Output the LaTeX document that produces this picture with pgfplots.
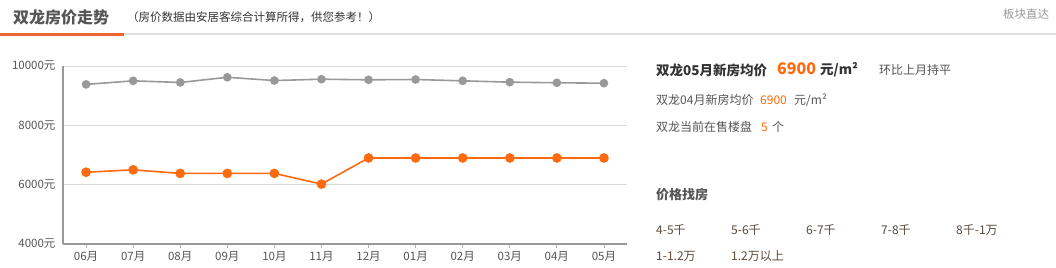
\documentclass[border=0pt]{standalone}
\usepackage{pgfplots}
\pgfplotsset{compat=1.18}
\usepackage{fontspec}
\setmainfont{Noto Sans CJK SC}
\definecolor{org}{HTML}{FF6A0E}
\definecolor{uline}{HTML}{EE6530}
\definecolor{gline}{HTML}{999999}
\definecolor{txt}{HTML}{555555}
\definecolor{dark}{HTML}{333333}
\definecolor{lnk}{HTML}{5A4A3A}
\newcommand{\fs}[1]{\fontsize{#1bp}{#1bp}\selectfont}
\begin{document}
\begin{tikzpicture}[x=1bp,y=1bp]
\path[use as bounding box, fill=white] (0,0) rectangle (1056,-267);
% header
\draw[line width=2bp, color=black!12] (0,-34) -- (1056,-34);
\draw[line width=3bp, color=uline] (0,-34) -- (124,-34);
\node[anchor=west, inner sep=0, text=txt, font=\fs{16}\bfseries] at (13,-17) {双龙房价走势};
\node[anchor=west, inner sep=0, text=dark, font=\fs{11.5}] at (127,-17) {（房价数据由安居客综合计算所得，供您参考！）};
\node[anchor=west, inner sep=0, text=gline, font=\fs{11.5}] at (1003,-14) {板块直达};
% right panel
\node[anchor=west, inner sep=0, text=dark, font=\fs{13.5}\bfseries] at (656,-70) {双龙05月新房均价};
\node[anchor=west, inner sep=0, text=org, font=\fs{16}\bfseries] at (777,-69) {6900};
\node[anchor=west, inner sep=0, text=dark, font=\fs{13.5}\bfseries] at (820,-70) {元/m²};
\node[anchor=west, inner sep=0, text=txt, font=\fs{12}] at (879,-70) {环比上月持平};
\node[anchor=west, inner sep=0, text=txt, font=\fs{12}] at (656,-100) {双龙04月新房均价};
\node[anchor=west, inner sep=0, text=org, font=\fs{12}] at (760,-100) {6900};
\node[anchor=west, inner sep=0, text=txt, font=\fs{12}] at (794,-100) {元/m²};
\node[anchor=west, inner sep=0, text=txt, font=\fs{12}] at (656,-127) {双龙当前在售楼盘};
\node[anchor=west, inner sep=0, text=org, font=\fs{12}] at (761,-127) {5};
\node[anchor=west, inner sep=0, text=txt, font=\fs{12}] at (772,-127) {个};
\node[anchor=west, inner sep=0, text=txt, font=\fs{13}\bfseries] at (656,-195) {价格找房};
\node[anchor=west, inner sep=0, text=lnk, font=\fs{12}] at (656,-230) {4-5千};
\node[anchor=west, inner sep=0, text=lnk, font=\fs{12}] at (731,-230) {5-6千};
\node[anchor=west, inner sep=0, text=lnk, font=\fs{12}] at (806,-230) {6-7千};
\node[anchor=west, inner sep=0, text=lnk, font=\fs{12}] at (881,-230) {7-8千};
\node[anchor=west, inner sep=0, text=lnk, font=\fs{12}] at (956,-230) {8千-1万};
\node[anchor=west, inner sep=0, text=lnk, font=\fs{12}] at (656,-256) {1-1.2万};
\node[anchor=west, inner sep=0, text=lnk, font=\fs{12}] at (731,-256) {1.2万以上};
\begin{axis}[
  at={(63bp,-244bp)}, anchor=south west,
  scale only axis, width=564bp, height=178bp,
  xmin=-0.49, xmax=11.49, ymin=4000, ymax=10000,
  scaled y ticks=false,
  axis lines*=left,
  axis line style={draw=gline, line width=1.6bp},
  xtick={0,...,11},
  xticklabels={06月,07月,08月,09月,10月,11月,12月,01月,02月,03月,04月,05月},
  ytick={4000,6000,8000,10000},
  yticklabels={4000元,6000元,8000元,10000元},
  ymajorgrids, grid style={draw=black!15, line width=0.8bp},
  tick label style={font=\fs{11.5}, text=txt},
  ytick style={draw=none},
  xtick style={draw=black!30, line width=0.8bp},
  tick align=outside, major tick length=4bp,
  clip=false,
]
\addplot[color=gline, line width=1.6bp, mark=*, mark size=3.5bp, mark options={fill=gline, draw=none}]
coordinates {(0,9380) (1,9500) (2,9445) (3,9620) (4,9510) (5,9555) (6,9535) (7,9545) (8,9500) (9,9455) (10,9435) (11,9420)};
\addplot[color=org, line width=1.6bp, mark=*, mark size=4bp, mark options={fill=org, draw=none}]
coordinates {(0,6420) (1,6500) (2,6380) (3,6380) (4,6380) (5,6020) (6,6900) (7,6900) (8,6900) (9,6900) (10,6900) (11,6900)};
\end{axis}
\end{tikzpicture}
\end{document}
